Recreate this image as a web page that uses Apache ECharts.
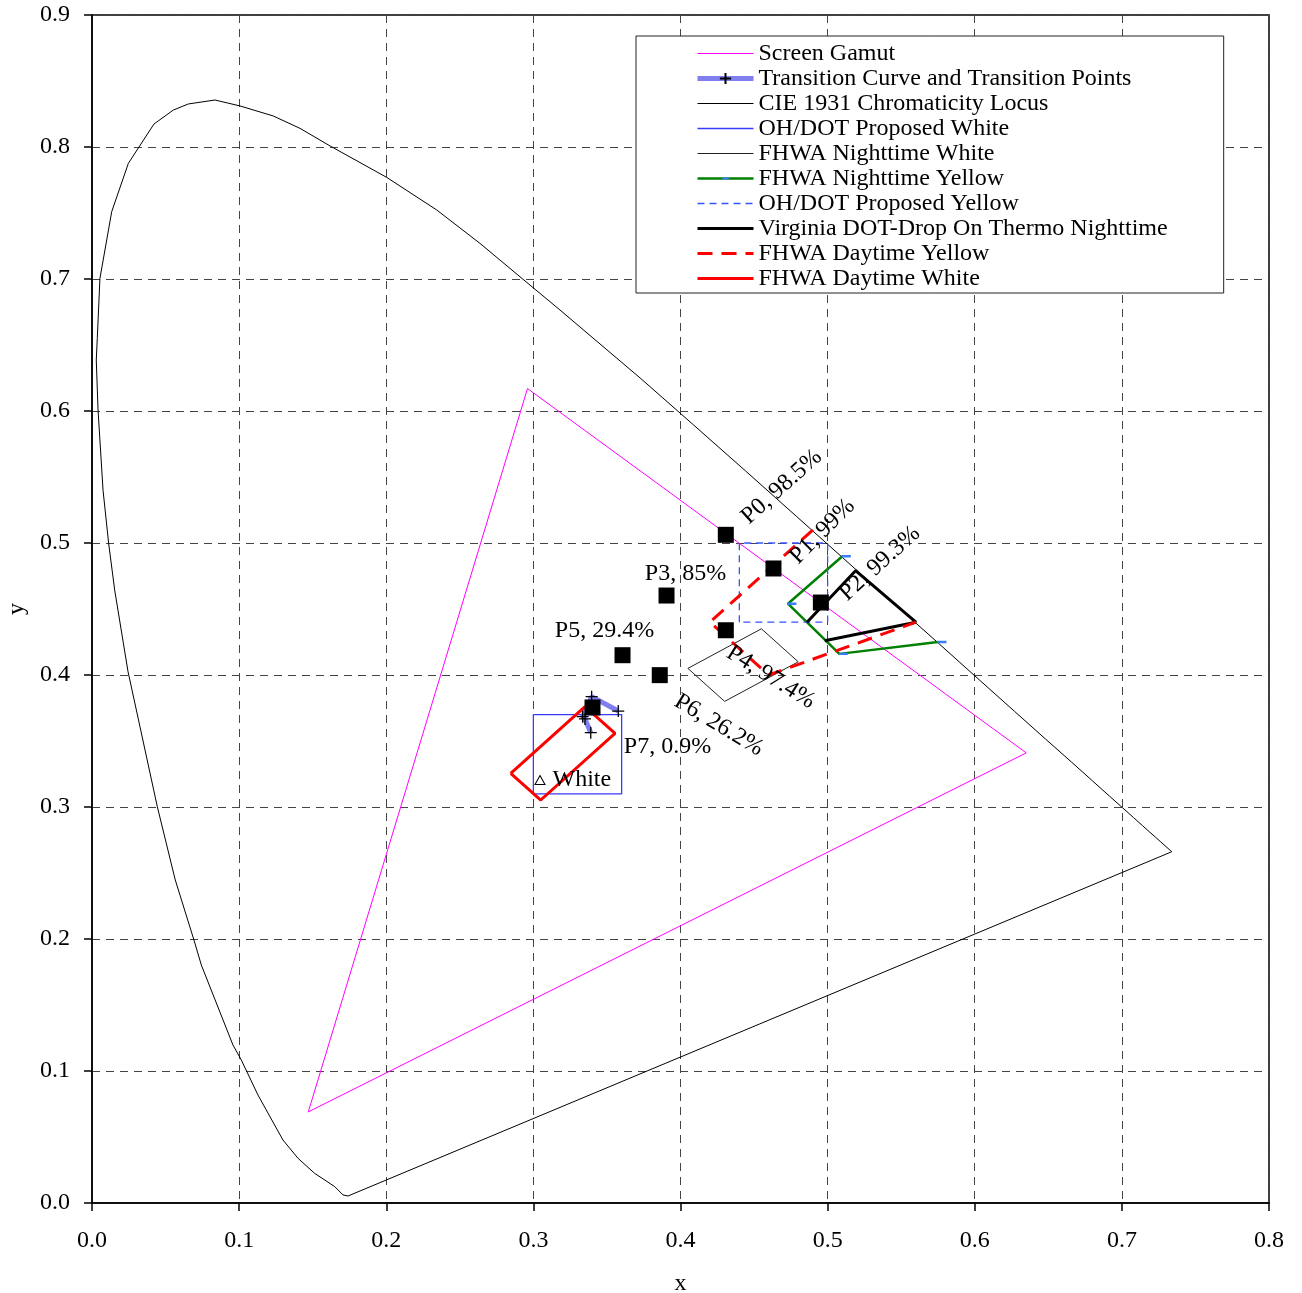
<!DOCTYPE html>
<html>
<head>
<meta charset="utf-8">
<script src="https://cdn.jsdelivr.net/npm/echarts@6/dist/echarts.min.js"></script>
<style>
  html, body { margin: 0; padding: 0; background: #ffffff; }
  #chart { width: 1302px; height: 1293px; }
</style>
</head>
<body>
<div id="chart"></div>
<script>
// ---- axis ticks ----
const xTickLabels = ['0.0', '0.1', '0.2', '0.3', '0.4', '0.5', '0.6', '0.7', '0.8'];
const yTickLabels = ['0.0', '0.1', '0.2', '0.3', '0.4', '0.5', '0.6', '0.7', '0.8', '0.9'];

// ---- CIE 1931 spectral locus (x, y), closed by the line of purples ----
const cieLocus = [
  [0.1740, 0.0053], [0.1706, 0.0061], [0.1650, 0.0124], [0.1513, 0.0225], [0.1400, 0.0339],
  [0.1298, 0.0477], [0.1128, 0.0818], [0.1015, 0.1083], [0.0958, 0.1197], [0.0743, 0.1803],
  [0.0693, 0.1992], [0.0566, 0.2447], [0.0444, 0.3002], [0.0331, 0.3583], [0.0245, 0.4025],
  [0.0154, 0.4644], [0.0113, 0.4998], [0.0075, 0.5400], [0.0041, 0.6008], [0.0029, 0.6386],
  [0.0036, 0.6550], [0.0054, 0.7005], [0.0134, 0.7510], [0.0247, 0.7876], [0.0421, 0.8174],
  [0.0553, 0.8280], [0.0655, 0.8326], [0.0836, 0.8356], [0.1006, 0.8311], [0.1232, 0.8235],
  [0.1414, 0.8141], [0.1618, 0.8008], [0.2003, 0.7770], [0.2343, 0.7523], [0.2637, 0.7270],
  [0.2909, 0.7017], [0.3181, 0.6765], [0.3731, 0.6245], [0.4087, 0.5896], [0.4441, 0.5547],
  [0.4788, 0.5202], [0.5125, 0.4866], [0.5448, 0.4544], [0.5752, 0.4242], [0.6029, 0.3965],
  [0.6270, 0.3725], [0.6482, 0.3514], [0.6658, 0.3340], [0.6801, 0.3197], [0.6915, 0.3083],
  [0.7006, 0.2993], [0.7079, 0.2920], [0.7140, 0.2859], [0.7190, 0.2809], [0.7230, 0.2770],
  [0.7260, 0.2740], [0.7300, 0.2700], [0.7339, 0.2661], [0.1740, 0.0053]
];

// ---- display primaries ----
const screenGamut = [[0.296, 0.617], [0.635, 0.341], [0.147, 0.069], [0.296, 0.617]];

// ---- transition curve ----
const transitionCurve = [[0.3577, 0.3727], [0.3396, 0.3836], [0.3335, 0.3684], [0.3351, 0.3667], [0.3390, 0.3563]];

// ---- colour boxes ----
const ohdotWhite = [[0.30, 0.31], [0.30, 0.37], [0.36, 0.37], [0.36, 0.31], [0.30, 0.31]];
const fhwaNightWhite = [[0.480, 0.410], [0.430, 0.380], [0.405, 0.405], [0.455, 0.435], [0.480, 0.410]];
const fhwaNightYellow = [[0.510, 0.490], [0.473, 0.454], [0.508, 0.416], [0.575, 0.425]];
const ohdotYellow = [[0.44, 0.44], [0.44, 0.50], [0.50, 0.50], [0.50, 0.44], [0.44, 0.44]];
const virginiaNight = [[0.486, 0.440], [0.519, 0.479], [0.560, 0.440], [0.498, 0.426]];
const fhwaDayYellow = [[0.490, 0.510], [0.420, 0.440], [0.460, 0.400], [0.560, 0.440]];
const fhwaDayWhite = [[0.2846, 0.3255], [0.3050, 0.3053], [0.3555, 0.3558], [0.3351, 0.3760], [0.2846, 0.3255]];

// ---- measured points ----
const pointNames = ['P0', 'P1', 'P2', 'P3', 'P4', 'P5', 'P6', 'P7'];
const pointShare = ['98.5%', '99%', '99.3%', '85%', '97.4%', '29.4%', '26.2%', '0.9%'];
const pointX = [0.4308, 0.4632, 0.4954, 0.3905, 0.4308, 0.3606, 0.3859, 0.3402];
const pointY = [0.5062, 0.4807, 0.4549, 0.4602, 0.4339, 0.4150, 0.3999, 0.3754];

// ---- reference white ----
const whitePoint = [[0.3045, 0.3205]];
const whiteLabel = 'White';

// label centre offset from its marker (px) and rotation (deg)
const pointLabelPlacement = [
  [56, -48, 42], [49, -37, 45], [59, -39, 42], [19, -22, 0],
  [45, 47, -32], [-18, -24, 0], [59, 50, -31], [75, 39, 0]
];

const serif = "'Liberation Serif', 'Times New Roman', serif";
const plusPath = 'path://M5,0L5,10M0,5L10,5';
// short horizontal tick, padded so it keeps its proportions inside a square box
const dashPath = 'path://M0,0L0.001,0M2,4.2L8,4.2L8,5.8L2,5.8ZM10,10L9.999,10';

function outline(name, data, color, width, type, extra) {
  return Object.assign({
    name: name,
    type: 'line',
    data: data,
    symbol: 'none',
    silent: true,
    lineStyle: { color: color, width: width, type: type || 'solid' },
    itemStyle: { color: color }
  }, extra || {});
}

const series = [
  outline('Screen Gamut', screenGamut, '#ff00ff', 1),
  outline('Transition Curve and Transition Points', transitionCurve, '#7f7fef', 5, 'solid', {
    symbol: plusPath,
    symbolSize: 12,
    itemStyle: { color: '#000', borderColor: '#000', borderWidth: 1.3 }
  }),
  outline('CIE 1931 Chromaticity Locus', cieLocus, '#000000', 1),
  outline('OH/DOT Proposed White', ohdotWhite, '#3a3aff', 1.3),
  outline('FHWA Nighttime White', fhwaNightWhite, '#222222', 1),
  outline('FHWA Nighttime Yellow', fhwaNightYellow, '#008000', 2.5, 'solid', {
    symbol: dashPath,
    symbolSize: 15,
    symbolOffset: [4, 0],
    itemStyle: { color: '#3a7dff', borderWidth: 0 }
  }),
  outline('OH/DOT Proposed Yellow', ohdotYellow, '#3355ff', 1.3, [7, 5]),
  outline('Virginia DOT-Drop On Thermo Nighttime', virginiaNight, '#000000', 3),
  outline('FHWA Daytime Yellow', fhwaDayYellow, '#ff0000', 3, [15, 9]),
  outline('FHWA Daytime White', fhwaDayWhite, '#ff0000', 3),
  {
    name: 'white',
    type: 'scatter',
    silent: true,
    data: whitePoint,
    symbol: 'triangle',
    symbolSize: [10, 9],
    itemStyle: { color: '#ffffff', borderColor: '#000000', borderWidth: 1, opacity: 1 },
    label: {
      show: true, formatter: whiteLabel, position: 'right', distance: 7,
      fontFamily: serif, fontSize: 24, color: '#000'
    },
    z: 5
  },
  {
    name: 'points',
    type: 'scatter',
    silent: true,
    data: pointX.map((x, i) => [x, pointY[i]]),
    symbol: 'rect',
    symbolSize: 16,
    itemStyle: { color: '#000000', opacity: 1 },
    label: {
      show: true,
      formatter: p => pointNames[p.dataIndex] + ', ' + pointShare[p.dataIndex],
      fontFamily: serif, fontSize: 24, color: '#000'
    },
    labelLayout: p => {
      const o = pointLabelPlacement[p.dataIndex];
      return {
        x: p.rect.x + p.rect.width / 2 + o[0],
        y: p.rect.y + p.rect.height / 2 + o[1],
        rotate: o[2], align: 'center', verticalAlign: 'middle'
      };
    },
    z: 6
  }
];

// legend: plain line samples at the series' own weight, markers only where the series has them
const legendData = series.slice(0, 10).map(s => {
  const item = { name: s.name, lineStyle: { width: s.lineStyle.width } };
  if (s.symbol !== 'none') item.itemStyle = { opacity: 1 };
  return item;
});

const chart = echarts.init(document.getElementById('chart'), null, { renderer: 'canvas' });
chart.setOption({
  animation: false,
  backgroundColor: '#ffffff',
  grid: {
    left: 92, top: 15, right: 33, bottom: 90,
    outerBoundsMode: 'none', containLabel: false,
    show: true, borderColor: '#000', borderWidth: 1.5, backgroundColor: 'transparent'
  },
  legend: {
    data: legendData,
    orient: 'vertical',
    left: 636, top: 36,
    padding: [5, 56, 2, 59],
    itemWidth: 56, itemHeight: 14, itemGap: 0,
    itemStyle: { opacity: 0 },
    backgroundColor: '#ffffff',
    borderColor: '#222', borderWidth: 1, borderRadius: 0,
    selectedMode: false,
    textStyle: { fontFamily: serif, fontSize: 24, color: '#000', lineHeight: 25 }
  },
  xAxis: {
    type: 'value', min: 0, max: 0.8, interval: 0.1,
    name: 'x', nameLocation: 'middle', nameGap: 69,
    nameTextStyle: { fontFamily: serif, fontSize: 24, color: '#000' },
    axisLine: { onZero: false, lineStyle: { color: '#000', width: 1.5 } },
    axisTick: { show: true, inside: false, length: 8, lineStyle: { color: '#000', width: 1.5 } },
    axisLabel: {
      margin: 26, fontFamily: serif, fontSize: 24, color: '#000',
      formatter: v => xTickLabels[Math.round(v * 10)]
    },
    splitLine: { show: true, lineStyle: { color: '#444', width: 1, type: [8, 6] } }
  },
  yAxis: {
    type: 'value', min: 0, max: 0.9, interval: 0.1,
    name: 'y', nameLocation: 'middle', nameGap: 60,
    nameTextStyle: { fontFamily: serif, fontSize: 24, color: '#000' },
    axisLine: { onZero: false, lineStyle: { color: '#000', width: 1.5 } },
    axisTick: { show: true, inside: false, length: 8, lineStyle: { color: '#000', width: 1.5 } },
    axisLabel: {
      margin: 22, fontFamily: serif, fontSize: 24, color: '#000',
      formatter: v => yTickLabels[Math.round(v * 10)]
    },
    splitLine: { show: true, lineStyle: { color: '#444', width: 1, type: [8, 6] } }
  },
  series: series
});
</script>
</body>
</html>
